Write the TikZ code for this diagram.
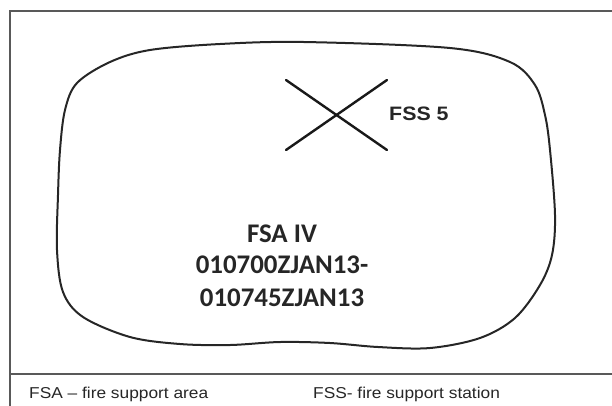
\documentclass[tikz,border=0pt]{standalone}
\usepackage{fontspec}
\setmainfont{Liberation Sans}
\newfontfamily\labelfont[FakeStretch=1.1]{Liberation Sans}
\newfontfamily\areafont{Carlito}
\usepackage{tikz}
\usetikzlibrary{calc}
\usepackage{tkz-euclide}

\begin{document}
\begin{tikzpicture}[x=1bp,y=-1bp,
    frame/.style={draw=black!65, line width=2.2bp},
    blob/.style={draw=black!85, line width=2bp},
    xmark/.style={draw=black!90, line width=2.4bp},
    areatext/.style={anchor=base, inner sep=0pt, font=\areafont\bfseries\fontsize{27}{32}\selectfont, text=black!85},
    legend/.style={anchor=base west, inner sep=0pt, font=\labelfont\fontsize{15.8}{18}\selectfont, text=black!85}]
                \useasboundingbox (0,0) rectangle (612,405);
                % frame and legend line
                \draw[frame] (613,11) -- (10,11) -- (10,406);
                \draw[frame] (10,374) -- (613,374);
                % fire support area outline
                \draw[blob] plot[smooth cycle, tension=0.55] coordinates {
                    (304,42) (450,48) (510,62) (535,85) (545,115) (550,150)
                    (555,215) (552,255) (540,285) (515,318) (480,338) (430,348)
                    (378,347) (330,343) (280,342) (230,345) (180,344) (130,337)
                    (83,317) (63,292) (57,250) (58,195) (60,150) (65,110)
                    (77,83) (110,62) (150,50) (220,44)};
                % fire support station
                \tkzDefPoints{286/80/P1, 387/150/P2, 286/150/P3, 387/80/P4}
                \tkzDrawSegments[xmark](P1,P2 P3,P4)
                \node[anchor=base west, inner sep=0pt, font=\labelfont\bfseries\fontsize{19.5}{22}\selectfont, text=black!85] (fss) at (389,120) {FSS 5};
                \node[areatext] (fsa) at (282,242) {FSA IV};
                \node[areatext] (start) at (282,273) {010700ZJAN13-};
                \node[areatext] (stop) at (282,306) {010745ZJAN13};
                \node[legend] (keyfsa) at (29,398) {FSA – fire support area};
                \node[legend] (keyfss) at (313,398) {FSS- fire support station};
            \end{tikzpicture}
\end{document}
